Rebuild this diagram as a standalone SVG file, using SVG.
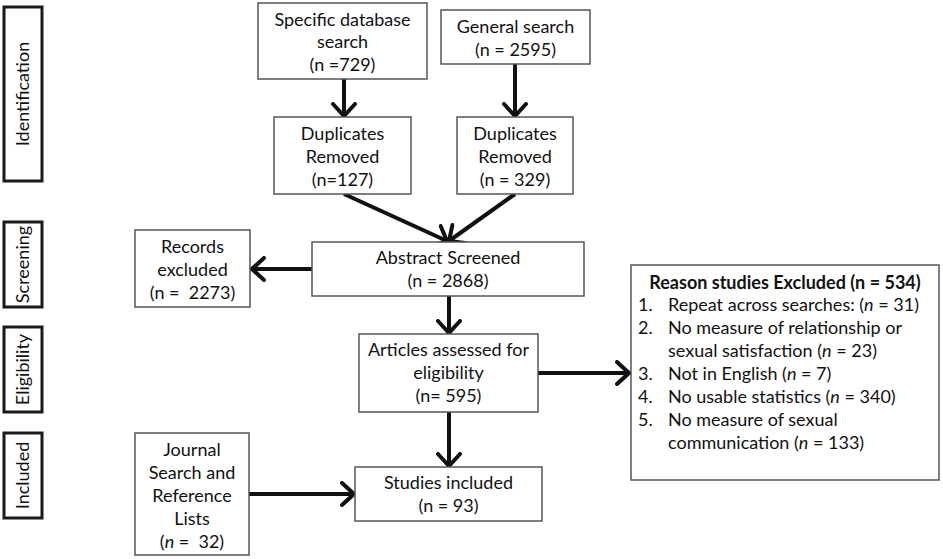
<svg xmlns="http://www.w3.org/2000/svg" width="943" height="559" viewBox="0 0 943 559">
  <style>
    .box { fill: #ffffff; stroke: #555555; stroke-width: 1.5; }
    .stage { fill: #ffffff; stroke: #1a1a1a; stroke-width: 3; }
    .t { font-family: Lato, "Liberation Sans", sans-serif; font-size: 18px; fill: #111111; text-anchor: middle; }
    .l { font-family: Lato, "Liberation Sans", sans-serif; font-size: 18px; fill: #111111; }
    .b { font-weight: bold; }
    .conn { stroke: #111111; stroke-width: 4; fill: none; }
  </style>
  <defs>
    <marker id="arrow" markerUnits="userSpaceOnUse" viewBox="0 0 16 26" refX="14" refY="13" markerWidth="16" markerHeight="26" orient="auto">
      <path d="M2,2 L14,13 L2,24" fill="none" stroke="#111111" stroke-width="4" stroke-linecap="round" stroke-linejoin="miter"/>
    </marker>
  </defs>
  <rect width="943" height="559" fill="#ffffff"/>

  <!-- Stage labels -->
  <g id="stage-identification">
    <rect class="stage" x="4" y="7" width="38" height="174"/>
    <text class="t" transform="translate(29,94) rotate(-90)">Identification</text>
  </g>
  <g id="stage-screening">
    <rect class="stage" x="4" y="222" width="38" height="85"/>
    <text class="t" transform="translate(29,264.5) rotate(-90)">Screening</text>
  </g>
  <g id="stage-eligibility">
    <rect class="stage" x="4" y="327" width="38" height="85"/>
    <text class="t" transform="translate(29,369.5) rotate(-90)">Eligibility</text>
  </g>
  <g id="stage-included">
    <rect class="stage" x="4" y="433" width="38" height="85"/>
    <text class="t" transform="translate(29,475.5) rotate(-90)">Included</text>
  </g>

  <!-- Connectors -->
  <g id="connectors">
    <line class="conn" x1="344" y1="79" x2="344" y2="116" marker-end="url(#arrow)"/>
    <line class="conn" x1="515" y1="64" x2="515" y2="116" marker-end="url(#arrow)"/>
    <line class="conn" x1="344" y1="194" x2="447" y2="241" marker-end="url(#arrow)"/>
    <line class="conn" x1="515" y1="194" x2="449" y2="241" marker-end="url(#arrow)"/>
    <line class="conn" x1="312" y1="269" x2="252" y2="269" marker-end="url(#arrow)"/>
    <line class="conn" x1="449" y1="296" x2="449" y2="333" marker-end="url(#arrow)"/>
    <line class="conn" x1="538" y1="373" x2="629" y2="373" marker-end="url(#arrow)"/>
    <line class="conn" x1="449" y1="412" x2="449" y2="466" marker-end="url(#arrow)"/>
    <line class="conn" x1="249" y1="494" x2="354" y2="494" marker-end="url(#arrow)"/>
  </g>

  <!-- Nodes -->
  <g id="specific-search">
    <rect class="box" x="258" y="3" width="169" height="76"/>
    <text class="t" x="342.5" y="26">Specific database</text>
    <text class="t" x="342.5" y="48">search</text>
    <text class="t" x="342.5" y="71">(n =729)</text>
  </g>
  <g id="general-search">
    <rect class="box" x="441" y="10" width="149" height="54"/>
    <text class="t" x="515.5" y="33">General search</text>
    <text class="t" x="515.5" y="56">(n = 2595)</text>
  </g>
  <g id="duplicates-left">
    <rect class="box" x="274" y="117" width="137" height="77"/>
    <text class="t" x="342.5" y="140">Duplicates</text>
    <text class="t" x="342.5" y="163">Removed</text>
    <text class="t" x="342.5" y="186">(n=127)</text>
  </g>
  <g id="duplicates-right">
    <rect class="box" x="457" y="117" width="116" height="77"/>
    <text class="t" x="515" y="140">Duplicates</text>
    <text class="t" x="515" y="163">Removed</text>
    <text class="t" x="515" y="186">(n = 329)</text>
  </g>
  <g id="abstract-screened">
    <rect class="box" x="312" y="242" width="272" height="54"/>
    <text class="t" x="448" y="264">Abstract Screened</text>
    <text class="t" x="448" y="287">(n = 2868)</text>
  </g>
  <g id="records-excluded">
    <rect class="box" x="135" y="230" width="115" height="77"/>
    <text class="t" x="192.5" y="253">Records</text>
    <text class="t" x="192.5" y="276">excluded</text>
    <text class="t" x="192.5" y="299" xml:space="preserve">(n =  2273)</text>
  </g>
  <g id="articles-assessed">
    <rect class="box" x="359" y="334" width="179" height="78"/>
    <text class="t" x="448.5" y="356">Articles assessed for</text>
    <text class="t" x="448.5" y="379">eligibility</text>
    <text class="t" x="448.5" y="402">(n= 595)</text>
  </g>
  <g id="reasons-excluded">
    <rect class="box" x="631" y="265" width="308" height="215"/>
    <text class="t b" x="785" y="289">Reason studies Excluded (n = 534)</text>
    <text class="l" x="638" y="311">1.</text>
    <text class="l" x="668" y="311">Repeat across searches: (<tspan font-style="italic">n</tspan> = 31)</text>
    <text class="l" x="638" y="334">2.</text>
    <text class="l" x="668" y="334">No measure of relationship or</text>
    <text class="l" x="668" y="357">sexual satisfaction (<tspan font-style="italic">n</tspan> = 23)</text>
    <text class="l" x="638" y="380">3.</text>
    <text class="l" x="668" y="380">Not in English (<tspan font-style="italic">n</tspan> = 7)</text>
    <text class="l" x="638" y="403">4.</text>
    <text class="l" x="668" y="403">No usable statistics (<tspan font-style="italic">n</tspan> = 340)</text>
    <text class="l" x="638" y="426">5.</text>
    <text class="l" x="668" y="426">No measure of sexual</text>
    <text class="l" x="668" y="449">communication (<tspan font-style="italic">n</tspan> = 133)</text>
  </g>
  <g id="journal-search">
    <rect class="box" x="135" y="433" width="114" height="122"/>
    <text class="t" x="192" y="456">Journal</text>
    <text class="t" x="192" y="479">Search and</text>
    <text class="t" x="192" y="502">Reference</text>
    <text class="t" x="192" y="525">Lists</text>
    <text class="t" x="192" y="548" xml:space="preserve">(<tspan font-style="italic">n</tspan> =  32)</text>
  </g>
  <g id="studies-included">
    <rect class="box" x="355" y="467" width="187" height="54"/>
    <text class="t" x="448.5" y="489">Studies included</text>
    <text class="t" x="448.5" y="512">(n = 93)</text>
  </g>
</svg>
